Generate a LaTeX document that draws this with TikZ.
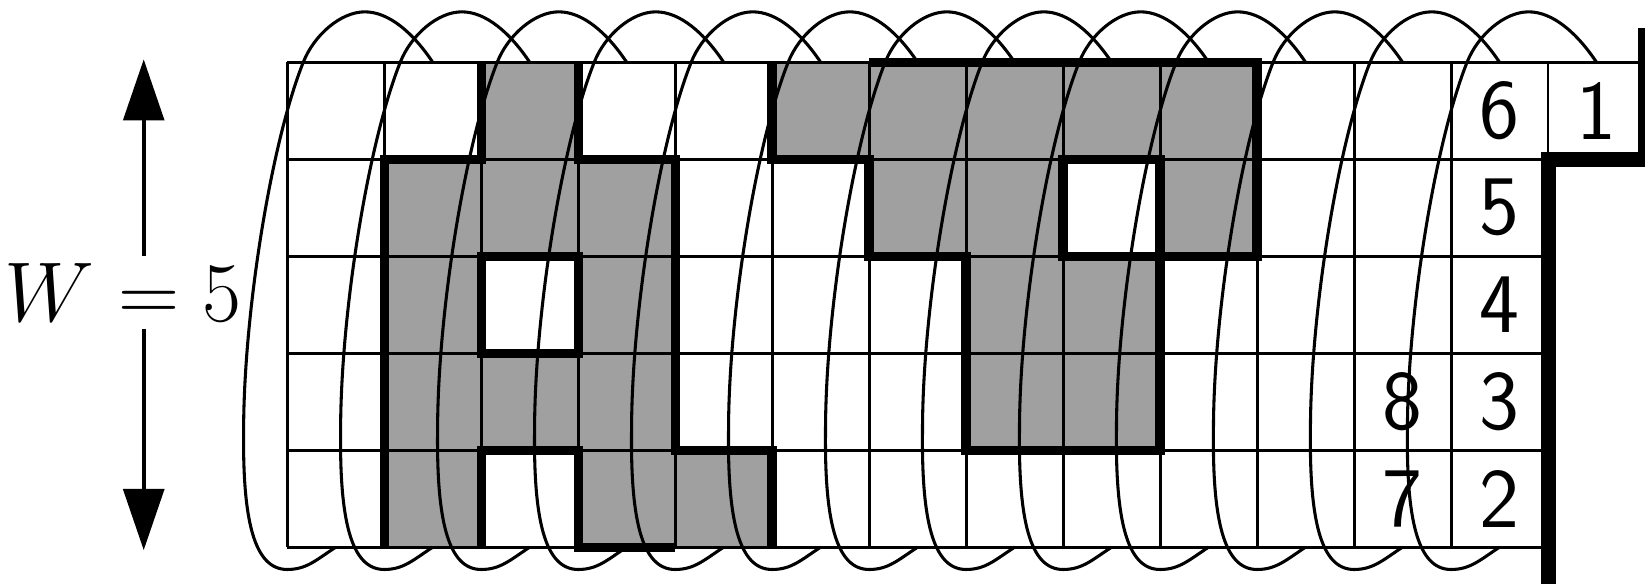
\documentclass[tikz,border=0pt]{standalone}
\usepackage{tikz}
\usetikzlibrary{arrows.meta,positioning,calc}
\definecolor{HelixInk}{HTML}{000000}
\definecolor{HelixGray}{HTML}{A0A0A0}
\definecolor{HelixWhite}{HTML}{FFFFFF}

\begin{document}
\begin{tikzpicture}[line join=miter,
  gridline/.style={HelixInk,line width=0.85pt},
  cellfill/.style={fill=HelixGray},
  cutline/.style={HelixInk,line width=2.75pt},
  wallline/.style={HelixInk,line width=4.4pt},
  coil/.style={HelixInk,line width=0.9pt},
  widtharrow/.style={HelixInk,line width=1.1pt,-{Triangle[length=0.63cm,width=0.42cm]}},
  sitenum/.style={font=\Huge\sffamily,inner sep=0pt}]
\useasboundingbox (-2.962,-0.378) rectangle (14.0,5.642);
\fill[HelixWhite] (-2.962,-0.378) rectangle (14.0,5.642);
\foreach \c/\r in {2/4,5/4,6/4,7/4,8/4,9/4,1/3,2/3,3/3,6/3,7/3,9/3,1/2,3/2,7/2,8/2,1/1,2/1,3/1,7/1,8/1,1/0,3/0,4/0}
  \fill[cellfill] (\c,\r) rectangle ++(1,1);
\draw[gridline] (0,0) grid (13,5);
\draw[gridline] (13,5) -- (14,5);
\draw[cutline] (1,0) -- (1,4) -- (2,4) -- (2,5);
\draw[cutline] (3,5) -- (3,4) -- (4,4) -- (4,1) -- (5,1) -- (5,0);
\draw[cutline] (2,0) -- (2,1) -- (3,1) -- (3,0) -- (4,0);
\draw[cutline] (2,2) -- (3,2) -- (3,3) -- (2,3) -- cycle;
\draw[cutline] (5,5) -- (5,4) -- (6,4) -- (6,3) -- (7,3) -- (7,1) -- (9,1) -- (9,4) -- (8,4) -- (8,3) -- (10,3) -- (10,5) -- (6,5);
\draw[wallline] (14,5.35) -- (14,4) -- (13,4) -- (13,-0.6);
\foreach \n/\c/\r in {1/13/4,2/12/0,3/12/1,4/12/2,5/12/3,6/12/4,7/11/0,8/11/1}
  \node[sitenum] (n\n) at (\c+0.5,\r+0.5) {\n};
\foreach \k in {0,...,12}
  \draw[coil,xshift=\k cm] (0.5,0) .. controls (0.3,-0.13) and (0.2,-0.23) .. (0,-0.23) .. controls (-0.35,-0.23) and (-0.46,0.3) .. (-0.45,1.2) .. controls (-0.45,2.4) and (-0.17,4.16) .. (0.165,5) .. controls (0.276,5.28) and (0.55,5.52) .. (0.8,5.52) .. controls (1.05,5.52) and (1.3,5.3) .. (1.5,5);
\node[font=\Huge,inner sep=2pt] (wlab) at (-1.69,2.63) {$W = 5$};
\coordinate (wtop) at (-1.48,5.03);
\coordinate (wbot) at (-1.48,-0.03);
\draw[widtharrow] (wlab.north -| wtop) -- (wtop);
\draw[widtharrow] (wlab.south -| wbot) -- (wbot);
\end{tikzpicture}
\end{document}
